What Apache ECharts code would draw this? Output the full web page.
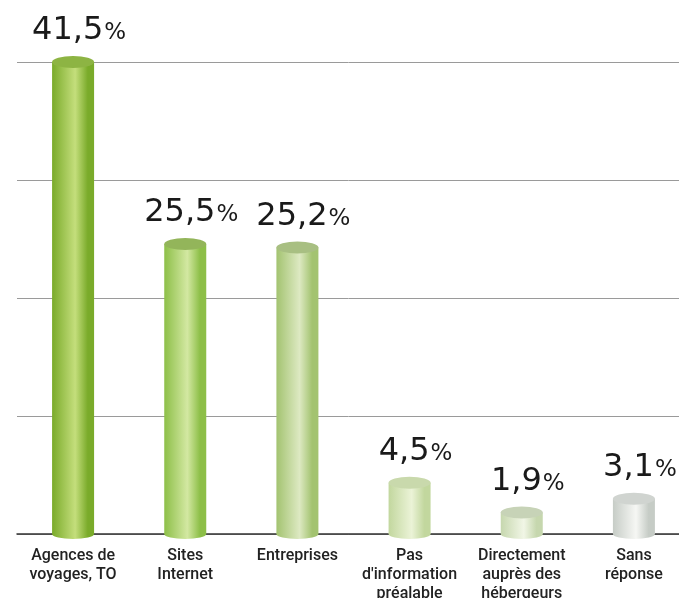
<!DOCTYPE html>
<html>
<head>
<meta charset="utf-8">
<script src="https://cdn.jsdelivr.net/npm/echarts@6/dist/echarts.min.js"></script>
<style>
html,body{margin:0;padding:0;background:#fff;overflow:hidden;}
#c{width:679px;height:598px;}
</style>
</head>
<body>
<div id="c"></div>
<script>
const categories = ["Agences de\nvoyages, TO", "Sites\nInternet", "Entreprises", "Pas\nd'information\npréalable", "Directement\nauprès des\nhébergeurs", "Sans\nréponse"];
const values = [41.5, 25.5, 25.2, 4.5, 1.9, 3.1];
const yTicks = [0, 10.375, 20.75, 31.125, 41.5];

// per-bar palette: [edge, middle, cap]
const palette = [
  ["#7aab2a", "#c4de7c", "#8db443"],
  ["#8dbf48", "#d3e8a2", "#93b55a"],
  ["#a3c370", "#dde9c2", "#a8bf82"],
  ["#c2d79e", "#ebf3d7", "#c9d9ac"],
  ["#c6d7ae", "#f1f6e6", "#c7d3b7"],
  ["#c6ccc6", "#f6f7f4", "#d0d4d0"]
];

function grad(p) {
  return new echarts.graphic.LinearGradient(0, 0, 1, 0, [
    {offset: 0, color: p[0]},
    {offset: 0.55, color: p[1]},
    {offset: 0.85, color: p[0]},
    {offset: 1, color: p[0]}
  ]);
}

const chart = echarts.init(document.getElementById('c'));
chart.setOption({
  animation: false,
  grid: {left: 17, width: 673, top: 62, bottom: 64, containLabel: false, outerBoundsMode: 'none'},
  xAxis: {
    type: 'category',
    data: categories,
    boundaryGap: true,
    axisLine: {lineStyle: {color: '#333', width: 1.5}},
    axisTick: {inside: true, length: 10, lineStyle: {color: '#333', width: 1.2}},
    axisLabel: {
      color: '#222', fontFamily: 'Roboto', fontSize: 16, lineHeight: 19,
      margin: 12, interval: 0, fontWeight: 500
    }
  },
  yAxis: {
    type: 'value',
    min: yTicks[0],
    max: yTicks[yTicks.length - 1],
    interval: yTicks[1] - yTicks[0],
    axisLabel: {show: false},
    axisLine: {show: false},
    axisTick: {show: false},
    splitLine: {lineStyle: {color: '#9a9a9a', width: 1}}
  },
  series: [
    {
      type: 'bar',
      barWidth: 42,
      z: 2,
      data: values.map((v, i) => ({value: v, itemStyle: {color: grad(palette[i])}})),
      label: {
        show: true,
        position: 'top',
        distance: 15,
        offset: [6, 0],
        formatter: p => '{n|' + String(p.value).replace('.', ',') + '}{p|%}',
        rich: {
          n: {fontFamily: 'DejaVu Sans', fontSize: 32, color: '#1a1a1a'},
          p: {fontFamily: 'DejaVu Sans', fontSize: 23, color: '#1a1a1a', padding: [5, 0, 0, 1]}
        }
      }
    },
    {
      type: 'pictorialBar',
      symbol: 'circle',
      symbolSize: [42, 12],
      symbolPosition: 'end',
      symbolOffset: [0, '-50%'],
      z: 3,
      data: values.map((v, i) => ({value: v, itemStyle: {color: palette[i][2]}}))
    },
    {
      type: 'pictorialBar',
      symbol: 'circle',
      symbolSize: [42, 10],
      symbolPosition: 'start',
      symbolOffset: [0, '50%'],
      z: 1,
      data: values.map((v, i) => ({value: v, itemStyle: {color: grad(palette[i])}}))
    }
  ]
});
</script>
</body>
</html>
